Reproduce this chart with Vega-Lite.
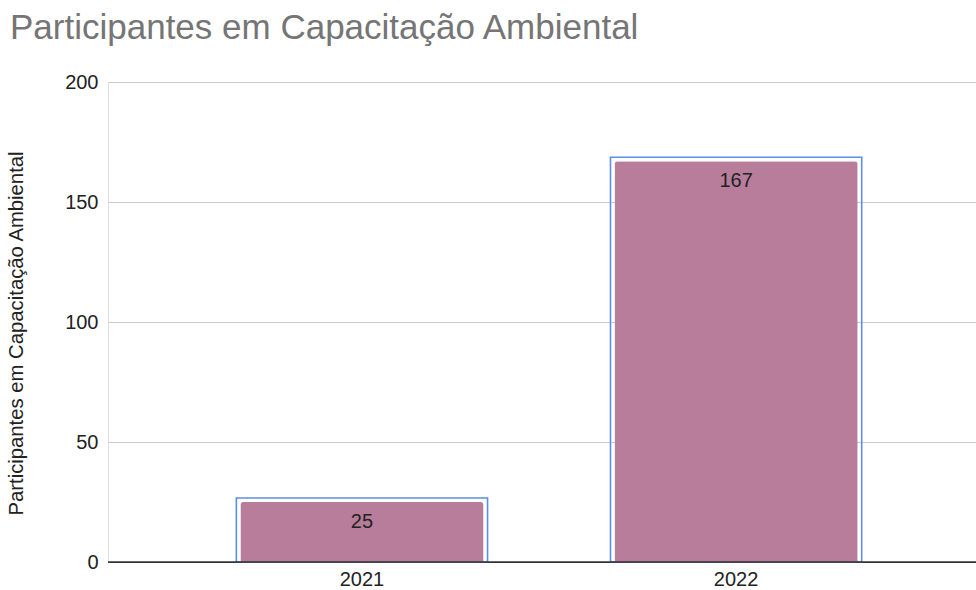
{
  "$schema": "https://vega.github.io/schema/vega-lite/v6.json",
  "width": 868,
  "height": 480,
  "autosize": {"type": "none"},
  "padding": {"left": 108, "top": 82, "right": 0, "bottom": 28},
  "background": "white",
  "title": {
    "text": "Participantes em Capacitação Ambiental",
    "anchor": "start",
    "frame": "group",
    "font": "Liberation Sans",
    "fontSize": 35,
    "fontWeight": "normal",
    "color": "#757575",
    "dx": -98,
    "offset": -2,
    "baseline": "alphabetic"
  },
  "data": {
    "values": [
      {"ano": "2021", "valor": 25},
      {"ano": "2022", "valor": 167}
    ]
  },
  "encoding": {
    "x": {
      "field": "ano",
      "type": "nominal",
      "scale": {"paddingInner": 0.35, "paddingOuter": 0.335, "align": 0.528},
      "axis": {
        "title": null,
        "labelAngle": 0,
        "labelFont": "Liberation Sans",
        "labelFontSize": 20,
        "labelColor": "#222222",
        "labelPadding": 7,
        "ticks": false,
        "domainColor": "#333333",
        "domainWidth": 1,
        "grid": false
      }
    },
    "y": {
      "field": "valor",
      "type": "quantitative",
      "scale": {"domain": [0, 200]},
      "axis": {
        "title": "Participantes em Capacitação Ambiental",
        "titleFont": "Liberation Sans",
        "titleFontSize": 20.3,
        "titleFontWeight": "normal",
        "titleColor": "#222222",
        "titlePadding": 38,
        "titleY": 251,
        "values": [0, 50, 100, 150, 200],
        "labelFont": "Liberation Sans",
        "labelFontSize": 20,
        "labelColor": "#222222",
        "labelPadding": 10,
        "ticks": false,
        "domain": false,
        "gridColor": "#cccccc",
        "gridWidth": 1
      }
    }
  },
  "layer": [
    {
      "mark": {
        "type": "bar",
        "fill": null,
        "filled": false,
        "stroke": "#5b8fe8",
        "strokeWidth": 1.6,
        "width": {"band": 1.033},
        "yOffset": -4,
        "y2Offset": 0
      },
      "encoding": {
        "y": {"field": "valor", "type": "quantitative", "stack": null},
        "y2": {"datum": 0}
      }
    },
    {
      "mark": {
        "type": "bar",
        "color": "#b77d9b",
        "cornerRadiusTopLeft": 3,
        "cornerRadiusTopRight": 3
      }
    },
    {
      "mark": {
        "type": "text",
        "baseline": "middle",
        "dy": 20,
        "font": "Liberation Sans",
        "fontSize": 20,
        "color": "#222222"
      },
      "encoding": {"text": {"field": "valor", "type": "quantitative"}}
    },
    {
      "mark": {"type": "rule", "color": "#333333", "strokeWidth": 1},
      "encoding": {"y": {"datum": 0}, "x": null}
    }
  ]
}
